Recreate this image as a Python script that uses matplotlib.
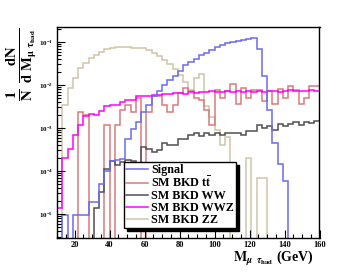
import matplotlib
matplotlib.use('Agg')
import matplotlib.pyplot as plt
from matplotlib.lines import Line2D
from matplotlib.ticker import MultipleLocator
import numpy as np

plt.rcParams['font.family'] = 'Liberation Serif'
plt.rcParams['font.weight'] = 'bold'
plt.rcParams['mathtext.fontset'] = 'stix'

# bins of 3 GeV from 10 to 160
edges = np.arange(10, 161, 3)

signal = [0, 9.5e-6, 0, 9.5e-6, 9.5e-6, 9.5e-6, 1.9e-5, 1.9e-5, 5.0e-5, 1.0e-4,
          1.7e-4, 1.78e-4, 1.86e-4, 5.6e-4, 9.5e-4, 1.4e-3, 2.4e-3, 3.4e-3, 5.4e-3, 7.2e-3,
          0.010, 0.0132, 0.0166, 0.021, 0.029, 0.035, 0.041, 0.049, 0.056, 0.066,
          0.078, 0.085, 0.093, 0.102, 0.107, 0.112, 0.117, 0.123, 0.068, 0.0158,
          0.0026, 0.00045, 0.000148, 5.8e-5, 0, 0, 0, 0, 0, 0]

ttbar = [0, 0, 0, 0, 0.0024, 0.0020, 0, 0, 0, 0.00117,
         0, 0.00117, 0.0026, 0.0035, 0.0024, 0.0049, 0, 0.0024, 0.0056, 0.0056,
         0.0034, 0.0023, 0.0034, 0.0065, 0.0083, 0.0071, 0.0050, 0.0045, 0.0026, 0.00117,
         0.0076, 0.0049, 0.0071, 0.0105, 0.0037, 0.0083, 0.0049, 0.0076, 0.0076, 0.0042,
         0.0072, 0.0037, 0.0079, 0.0049, 0.0095, 0.0076, 0.0037, 0.0050, 0.0093, 0.0095]

ww = [0, 0, 0, 0, 0, 0, 0, 1.35e-5, 3.2e-5, 1.1e-4,
      1.74e-4, 1.38e-4, 1.58e-4, 1.82e-4, 1.74e-4, 1.45e-4, 3.7e-4, 3.2e-4, 2.7e-4, 3.0e-4,
      4.5e-4, 4.0e-4, 4.0e-4, 5.5e-4, 5.6e-4, 6.9e-4, 7.8e-4, 6.6e-4, 7.8e-4, 6.8e-4,
      7.6e-4, 6.8e-4, 7.6e-4, 7.8e-4, 7.8e-4, 6.9e-4, 8.3e-4, 8.7e-4, 1.17e-3, 1.0e-3,
      1.1e-3, 8.9e-4, 1.23e-3, 1.1e-3, 1.23e-3, 1.41e-3, 1.17e-3, 1.38e-3, 1.29e-3, 1.45e-3]

wwz = [1.4e-5, 2.0e-4, 3.3e-4, 6.8e-4, 1.17e-3, 1.9e-3, 2.1e-3, 2.0e-3, 2.5e-3, 3.2e-3,
       3.4e-3, 3.5e-3, 4.1e-3, 4.5e-3, 4.4e-3, 5.4e-3, 5.5e-3, 5.5e-3, 5.9e-3, 6.0e-3,
       6.3e-3, 6.2e-3, 6.5e-3, 6.6e-3, 6.3e-3, 6.8e-3, 6.6e-3, 6.9e-3, 6.8e-3, 7.1e-3,
       6.8e-3, 6.9e-3, 7.1e-3, 6.8e-3, 7.2e-3, 6.9e-3, 7.1e-3, 6.9e-3, 7.2e-3, 6.8e-3,
       7.1e-3, 7.4e-3, 6.9e-3, 7.2e-3, 7.6e-3, 7.1e-3, 7.4e-3, 7.2e-3, 7.6e-3, 7.4e-3]

zz = [0, 0.0035, 0.0087, 0.0148, 0.025, 0.033, 0.042, 0.050, 0.059, 0.068,
      0.071, 0.076, 0.076, 0.076, 0.074, 0.074, 0.074, 0.065, 0.055, 0.046,
      0.038, 0.030, 0.023, 0.017, 0.0115, 0.0076, 0.0145, 0.018, 0.0032, 0.0018,
      0.00089, 0.0004, 0.00063, 0, 0, 0, 0.0002, 0, 6.8e-5, 6.8e-5,
      0, 0, 0, 0, 0, 0, 0, 0, 0, 0]

labels = ['Signal', r'SM BKD t$\mathbf{\bar{t}}$', 'SM BKD WW', 'SM BKD WWZ', 'SM BKD ZZ']
colors = ['#6a6aee', '#d87a7a', '#505050', '#ff00ff', '#cfc5a8']

fig = plt.figure(figsize=(3.55, 2.78), dpi=100)
ax = fig.add_axes([0.1606, 0.1439, 0.7394, 0.759])

floor = 1e-9  # empty bins drop below the axis, like ROOT outlines
series = [signal, ttbar, ww, wwz, zz]
order = [4, 1, 2, 3, 0]
for i in order:
    ax.stairs(np.maximum(series[i], floor), edges, color=colors[i], lw=1.1, baseline=floor)

ax.set_yscale('log')
ax.set_xlim(10, 160)
ax.set_ylim(2.77e-6, 0.223)
ax.xaxis.set_major_locator(MultipleLocator(20))
ax.xaxis.set_minor_locator(MultipleLocator(5))
ax.tick_params(which='both', direction='in', top=False, right=False)
ax.tick_params(which='major', length=6, width=0.8)
ax.tick_params(which='minor', length=3, width=0.8)
ax.tick_params(axis='x', labelsize=6, pad=2)
ax.tick_params(axis='y', labelsize=5, pad=3)
for s in ax.spines.values():
    s.set_linewidth(1)

handles = [Line2D([], [], color=c, lw=1.1) for c in colors]
ax.legend(handles, labels, loc='lower left', bbox_to_anchor=(0.255, 0.047),
          borderaxespad=0, fontsize=8.7, frameon=True, fancybox=False,
          edgecolor='black', framealpha=1, labelspacing=0.0, handlelength=1.8,
          handletextpad=0.3, borderpad=0.15,
          shadow={'color': 'black', 'alpha': 1})

fig.text(0.062, 0.77, r'$\mathbf{\frac{1}{N}\ \frac{dN}{d\ M_{\mu\ \tau_{had}}}}$',
         rotation=90, fontsize=15, ha='center', va='center')
fig.text(0.656, 0.058, r'$\mathbf{M}_{\mu\ \ \tau_{\mathbf{had}}}$ (GeV)', fontsize=10,
         ha='left', va='baseline')

fig.savefig('out.png', dpi=100)
